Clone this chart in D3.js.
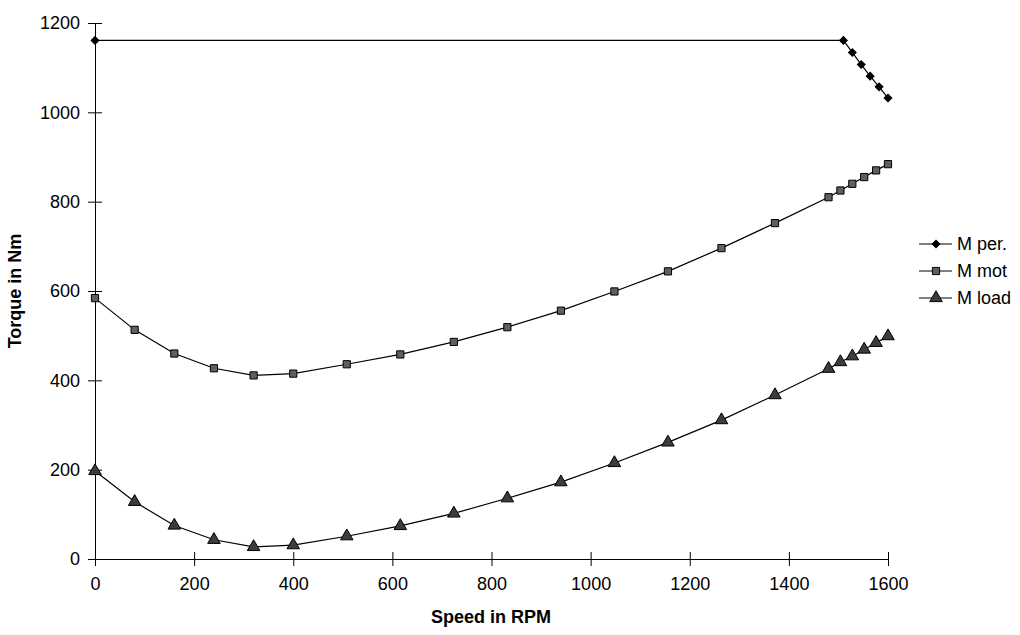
<!DOCTYPE html>
<html>
<head>
<meta charset="utf-8">
<script src="https://cdn.jsdelivr.net/npm/d3@7"></script>
<style>
  html, body { margin: 0; padding: 0; background: #fff; }
  svg { display: block; font-family: "Liberation Sans", Arial, sans-serif; }
</style>
</head>
<body>
<svg id="chart" width="1020" height="635"></svg>
<script>
// ---- data ----
const speed = [0, 80, 160, 240, 320, 400, 508, 616, 724, 832, 940, 1048, 1156, 1264, 1372, 1480, 1504, 1528, 1552, 1576, 1600];
const mMot  = [584, 513, 460, 427, 411, 415, 436, 458, 486, 519, 556, 599, 644, 696, 752, 810, 825, 840, 855, 870, 884];
const mLoad = [197, 128, 75, 43, 27, 31, 51, 74, 102, 136, 172, 215, 261, 311, 367, 426, 441, 454, 469, 484, 499];
const perSpeed = [0, 1510, 1528, 1546, 1564, 1582, 1600];
const mPer     = [1161, 1161, 1134, 1107, 1081, 1057, 1032];
const xTicks = [0, 200, 400, 600, 800, 1000, 1200, 1400, 1600];
const yTicks = [0, 200, 400, 600, 800, 1000, 1200];
const seriesNames = ["M per.", "M mot", "M load"];
const xTitle = "Speed in RPM";
const yTitle = "Torque in Nm";

// ---- layout ----
const svg = d3.select("#chart");
const pLeft = 95, pRight = 888, pTop = 23, pBottom = 559;
const x = d3.scaleLinear().domain([0, 1600]).range([pLeft, pRight]);
const y = d3.scaleLinear().domain([0, 1200]).range([pBottom, pTop]);
const fontSize = 18;

// axes with cross ticks
const xAxis = svg.append("g").attr("transform", `translate(0,${pBottom})`)
  .call(d3.axisBottom(x).tickValues(xTicks).tickSize(7).tickSizeOuter(0).tickPadding(11).tickFormat(d3.format("d")));
xAxis.selectAll(".tick line").attr("y1", -7).attr("y2", 7);
xAxis.selectAll("text").attr("font-size", fontSize).attr("font-family", "Liberation Sans, Arial, sans-serif").attr("fill", "#000");
xAxis.select(".domain").attr("stroke", "#000");

const yAxis = svg.append("g").attr("transform", `translate(${pLeft},0)`)
  .call(d3.axisLeft(y).tickValues(yTicks).tickSize(7).tickSizeOuter(0).tickPadding(8).tickFormat(d3.format("d")));
yAxis.selectAll(".tick line").attr("x1", -7).attr("x2", 7);
yAxis.selectAll("text").attr("font-size", fontSize).attr("font-family", "Liberation Sans, Arial, sans-serif").attr("fill", "#000");
yAxis.select(".domain").attr("stroke", "#000");

// titles
svg.append("text").attr("x", 491).attr("y", 623)
  .attr("text-anchor", "middle").attr("font-weight", "bold").attr("font-size", fontSize).text(xTitle);
svg.append("text").attr("transform", `translate(21,${(pTop + pBottom) / 2}) rotate(-90)`)
  .attr("text-anchor", "middle").attr("font-weight", "bold").attr("font-size", fontSize).text(yTitle);

// series
const line = d3.line().x(d => x(d[0])).y(d => y(d[1]));
const perData = perSpeed.map((s, i) => [s, mPer[i]]);
const motData = speed.map((s, i) => [s, mMot[i]]);
const loadData = speed.map((s, i) => [s, mLoad[i]]);

const markerDefs = [
  { type: d3.symbolSquare, size: 30, rot: 45, fill: "#000", stroke: "#000" },
  { type: d3.symbolSquare, size: 52, rot: 0, fill: "#5f5f5f", stroke: "#000" },
  { type: d3.symbolTriangle, size: 68, rot: 0, fill: "#3c3c3c", stroke: "#000" }
];
const allData = [perData, motData, loadData];

allData.forEach((data, k) => {
  svg.append("path").datum(data).attr("d", line)
    .attr("fill", "none").attr("stroke", "#000").attr("stroke-width", 1.2);
});
allData.forEach((data, k) => {
  const m = markerDefs[k];
  svg.append("g").selectAll("path").data(data).join("path")
    .attr("transform", d => `translate(${x(d[0])},${y(d[1])}) rotate(${m.rot})`)
    .attr("d", d3.symbol().type(m.type).size(m.size))
    .attr("fill", m.fill).attr("stroke", m.stroke).attr("stroke-width", 1);
});

// legend
const legY0 = 244, legDy = 27;
seriesNames.forEach((name, k) => {
  const g = svg.append("g").attr("transform", `translate(0,${legY0 + k * legDy})`);
  g.append("line").attr("x1", 919).attr("x2", 952).attr("y1", 0).attr("y2", 0)
    .attr("stroke", "#000").attr("stroke-width", 1.2);
  const m = markerDefs[k];
  g.append("path").attr("transform", `translate(936,0) rotate(${m.rot})`)
    .attr("d", d3.symbol().type(m.type).size(m.size))
    .attr("fill", m.fill).attr("stroke", m.stroke).attr("stroke-width", 1);
  g.append("text").attr("x", 957).attr("y", 0).attr("dy", "0.35em")
    .attr("font-size", fontSize).text(name);
});
</script>
</body>
</html>
